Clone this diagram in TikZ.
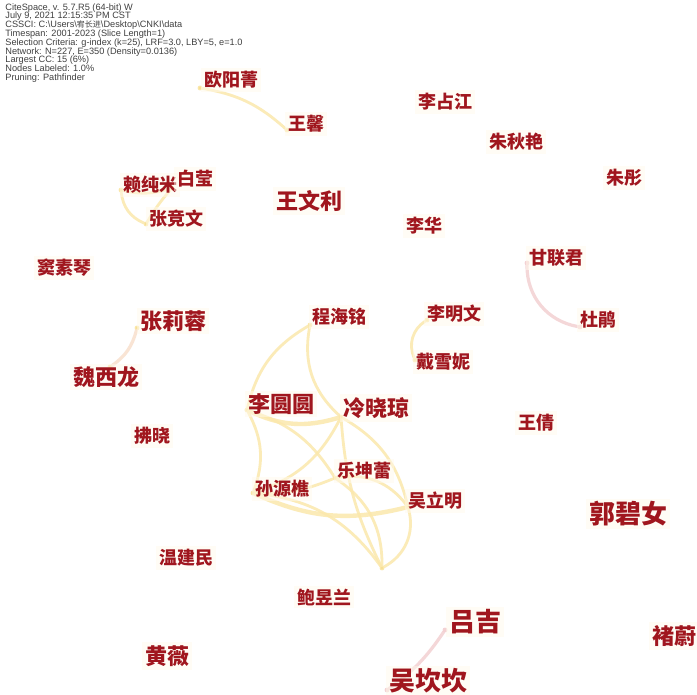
\documentclass[tikz,border=0pt]{standalone}
\usepackage{fontspec}
\usepackage{xcolor}
\usepackage{tikz}
\setmainfont{Liberation Sans}
\newfontfamily\cjk{Noto Sans CJK SC}

\definecolor{authorred}{RGB}{160,22,30}
\definecolor{linkyellow}{RGB}{251,232,172}
\definecolor{linkpink}{RGB}{243,208,210}
\definecolor{linkpeach}{RGB}{248,224,205}
\definecolor{labelbg}{RGB}{255,250,236}
\definecolor{dotyellow}{RGB}{247,224,150}

\begin{document}
\begin{tikzpicture}[
    x=0.5pt, y=-0.5pt,
    header/.style={anchor=north west, inner sep=0pt, align=left, text=black!75, font=\fontsize{4.6pt}{4.4pt}\selectfont},
    author/.style={anchor=west, inner sep=1.5pt, fill=labelbg, fill opacity=0.5, text opacity=1, text=authorred, font=\cjk\bfseries\fontsize{9pt}{9pt}\selectfont},
    bigauthor/.style={author, font=\cjk\bfseries\fontsize{11pt}{11pt}\selectfont},
    hugeauthor/.style={author, font=\cjk\bfseries\fontsize{13pt}{13pt}\selectfont},
    dot/.style={circle, inner sep=0pt, minimum size=2pt, fill=dotyellow, draw=linkyellow},
    pinkdot/.style={dot, fill=linkpink, draw=linkpink},
    link/.style={draw=linkyellow, line width=1.4pt, line cap=round, opacity=0.85},
    thicklink/.style={link, line width=2.2pt},
    pinklink/.style={link, draw=linkpink, line width=1.6pt},
    peachlink/.style={link, draw=linkpeach, line width=1.6pt}
]

\fill[white] (0,0) rectangle (697,695);
\useasboundingbox (0,0) rectangle (697,695);

\node[header] (info) at (5,3) {CiteSpace, v. 5.7.R5 (64-bit) W\\
July 9, 2021 12:15:35 PM CST\\
CSSCI: C:\textbackslash Users\textbackslash\smash{\cjk\fontsize{4pt}{4pt}\selectfont 宥长进}\textbackslash Desktop\textbackslash CNKI\textbackslash data\\
Timespan: 2001-2023 (Slice Length=1)\\
Selection Criteria: g-index (k=25), LRF=3.0, LBY=5, e=1.0\\
Network: N=227, E=350 (Density=0.0136)\\
Largest CC: 15 (6\%)\\
Nodes Labeled: 1.0\%\\
Pruning: Pathfinder};

% node points
\node[dot] (dOyj) at (200,88) {};
\node[dot] (dWx) at (287,130) {};
\node[dot] (dLcm) at (121,190) {};
\node[dot] (dBy) at (172,188) {};
\node[dot] (dZjw) at (146,224) {};
\node[pinkdot] (dGlj) at (527,263) {};
\node[pinkdot] (dDp) at (580,327) {};
\node[dot] (dZlr) at (137,328) {};
\node[dot] (dWxl) at (110,367) {};
\node[dot] (dLmw) at (427,320) {};
\node[dot] (dDxn) at (415,360) {};
\node[pinkdot] (dLj) at (445,630) {};
\node[pinkdot] (dWkk) at (387,690) {};
\node[dot] (dChm) at (310,325) {};
\node[dot] (dLyy) at (247,410) {};
\node[dot] (dLxq) at (341,417) {};
\node[dot] (dLkl) at (335,478) {};
\node[dot] (dSyq) at (253,493) {};
\node[dot] (dWlm) at (408,507) {};
\node[dot] (dBot) at (382,568) {};

% links
\draw[link] (dOyj) to[bend left=16] (dWx);
\draw[link] (dLcm) to[bend right=15] (dBy);
\draw[link] (dLcm) to[bend right=30] (dZjw);
\draw[link] (dBy) to[bend right=5] (dZjw);
\draw[pinklink] (dGlj) to[bend right=40] (dDp);
\draw[peachlink] (dZlr) to[bend left=20] (dWxl);
\draw[link] (dLmw) to[bend right=40] (dDxn);
\draw[pinklink] (dLj) to[bend left=10] (dWkk);

\draw[link] (dChm) to[bend right=23] (dLyy);
\draw[link] (dChm) to[bend right=29] (dLxq);
\draw[thicklink] (dLyy) to[bend right=21] (dLxq);
\draw[link] (dLyy) to[bend left=24] (dSyq);
\draw[link] (dLxq) to[bend left=22] (dSyq);
\draw[link] (dLyy) to[bend left=20] (dLkl);
\draw[link] (dLxq) to[bend left=23] (dWlm);
\draw[link] (dLxq) to[bend right=11] (dBot);
\draw[link] (dSyq) to[bend right=12] (dLkl);
\draw[thicklink] (dSyq) to[bend right=19] (dWlm);
\draw[link] (dSyq) to[bend left=24] (dBot);
\draw[link] (dLkl) to[bend left=28] (dBot);
\draw[link] (dLkl) to[bend left=31] (dWlm);
\draw[link] (dWlm) to[bend left=38] (dBot);

% labels
\node[author] (oyj) at (201,80) {欧阳菁};
\node[author] (wx) at (285,124) {王馨};
\node[author] (lzj) at (415,102) {李占江};
\node[author] (zqy) at (486,142) {朱秋艳};
\node[author] (zt) at (603,178) {朱彤};
\node[author] (lcm) at (120,185) {赖纯米};
\node[author] (by) at (174,179) {白莹};
\node[author] (zjw) at (146,219) {张竞文};
\node[bigauthor] (wwl) at (273,201) {王文利};
\node[author] (lh) at (403,226) {李华};
\node[author] (dsq) at (34,268) {窦素琴};
\node[author] (glj) at (526,258) {甘联君};
\node[author] (dp) at (577,320) {杜鹃};
\node[bigauthor] (zlr) at (137,321) {张莉蓉};
\node[author] (lmw) at (424,314) {李明文};
\node[author] (chm) at (309,317) {程海铭};
\node[author] (dxn) at (413,362) {戴雪妮};
\node[bigauthor] (wxl) at (70,377) {魏西龙};
\node[bigauthor] (lyy) at (245,404) {李圆圆};
\node[bigauthor] (lxq) at (340,408) {冷晓琼};
\node[author] (fx) at (131,436) {拂晓};
\node[author] (wq) at (515,423) {王倩};
\node[author] (lkl) at (334,471) {乐坤蕾};
\node[author] (syq) at (252,489) {孙源樵};
\node[author] (wlm) at (405,501) {吴立明};
\node[hugeauthor] (gbn) at (586,514) {郭碧女};
\node[author] (wjm) at (156,558) {温建民};
\node[author] (byl) at (294,597) {鲍昱兰};
\node[hugeauthor] (lj) at (446,622) {吕吉};
\node[hugeauthor] (wkk) at (386,681) {吴坎坎};
\node[bigauthor] (hw) at (142,656) {黄薇};
\node[bigauthor] (cw) at (649,636) {褚蔚};

\end{tikzpicture}
\end{document}
